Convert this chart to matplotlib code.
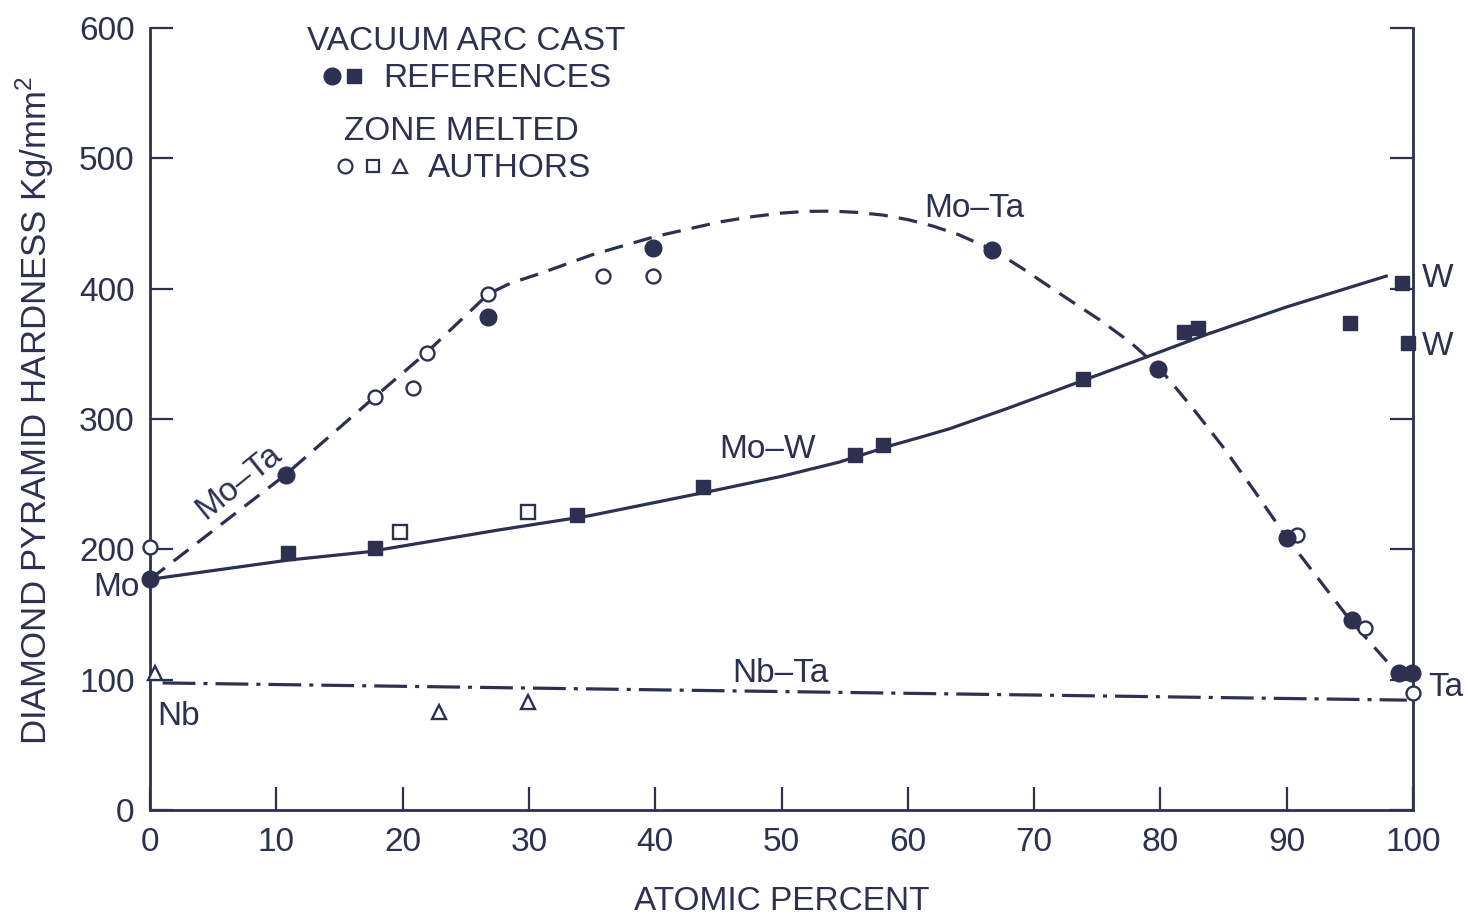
"""
Diamond pyramid hardness of Mo-Ta, Mo-W and Nb-Ta alloys vs atomic percent.
Output: out.png
"""

import matplotlib
matplotlib.use("Agg")
import matplotlib.pyplot as plt
from matplotlib.lines import Line2D
from matplotlib.legend_handler import HandlerTuple

# ── Dati ──────────────────────────────────────────────────────────────────────
# Mo-Ta, vacuum arc cast (references) -> filled circles
mota_ref_x = [0, 10.8, 26.8, 39.8, 66.7, 79.8, 90.0, 95.2, 98.9, 99.9]
mota_ref_y = [177, 257, 378, 431, 430, 338, 209, 146, 105, 105]

# Mo-Ta / Ta, zone melted (authors) -> open circles
mota_auth_x = [0, 17.8, 20.8, 21.9, 26.8, 35.9, 39.8, 90.8, 96.2, 100]
mota_auth_y = [202, 317, 324, 351, 396, 410, 410, 211, 140, 90]

# Mo-W, vacuum arc cast (references) -> filled squares
mow_ref_x = [10.9, 17.8, 33.8, 43.8, 55.8, 58.0, 73.9, 81.9, 83.0, 95.0, 99.1, 99.6]
mow_ref_y = [197, 201, 226, 248, 272, 280, 331, 367, 370, 374, 404, 358]

# Mo-W, zone melted (authors) -> open squares
mow_auth_x = [19.8, 29.9]
mow_auth_y = [213, 229]

# Nb-Ta, zone melted (authors) -> open triangles
nbta_auth_x = [0.4, 22.9, 29.9]
nbta_auth_y = [105, 75, 83]

# Curve tracciate a mano
mota_curve_x = [0, 10.7, 17.8, 21.9, 26.8, 28.5, 31, 35, 40, 45, 47.5, 50, 52, 54,
                56, 58, 60, 62, 64, 66.7, 69, 71.3, 73, 75.2, 77.6, 79, 80, 82.5,
                85, 87.5, 90, 95, 98.3, 99]
mota_curve_y = [177, 257, 317, 351, 396, 404, 412, 426, 440, 451, 455, 458, 459.3, 459.5,
                458.5, 456.5, 453, 448, 441.5, 430, 416, 401, 390, 376, 359, 347, 338, 309,
                278, 244, 209, 146, 110, 105]

mow_curve_x = [0, 11, 17.2, 27.7, 34.7, 44.6, 50, 54.6, 58.8, 61, 63.3, 68,
               74, 78.9, 83.7, 90, 98]
mow_curve_y = [177, 191.8, 198, 215, 225.6, 245, 256, 267, 280, 286, 292.5, 308.5,
               330, 347.6, 365, 386, 410]

nbta_curve_x = [1, 11.9, 58, 99.5]
nbta_curve_y = [97.5, 96, 89.8, 84.3]

x_ticks = list(range(0, 101, 10))
y_ticks = list(range(0, 601, 100))

# ── Stile ─────────────────────────────────────────────────────────────────────
INK = "#2d3050"
FS = 24
plt.rcParams["font.family"] = ["Liberation Sans", "DejaVu Sans"]
plt.rcParams["mathtext.fontset"] = "custom"
plt.rcParams["mathtext.rm"] = "Liberation Sans"
plt.rcParams["lines.scale_dashes"] = False

fig = plt.figure(figsize=(14.68, 9.18), dpi=100)
ax = fig.add_axes([150 / 1468, 1 - 810 / 918, 1263 / 1468, 782 / 918])

# ── Curve ─────────────────────────────────────────────────────────────────────
ax.plot(mow_curve_x, mow_curve_y, color=INK, lw=2.3, solid_capstyle="butt",
        solid_joinstyle="round", zorder=2)
ax.plot(mota_curve_x, mota_curve_y, color=INK, lw=2.3, dashes=(13.5, 8),
        dash_capstyle="butt", zorder=2)
ax.plot(nbta_curve_x, nbta_curve_y, color=INK, lw=2.3, dashes=(23.6, 5.8, 2.9, 5.8),
        dash_capstyle="butt", zorder=2)

# ── Punti ─────────────────────────────────────────────────────────────────────
ax.plot(mota_auth_x, mota_auth_y, ls="none", marker="o", ms=10, mfc="white",
        mec=INK, mew=1.7, clip_on=False, zorder=3)
ax.plot(mow_auth_x, mow_auth_y, ls="none", marker="s", ms=9.5, mfc="white",
        mec=INK, mew=1.7, clip_on=False, zorder=3)
ax.plot(nbta_auth_x, nbta_auth_y, ls="none", marker="^", ms=10.5, mfc="white",
        mec=INK, mew=1.7, clip_on=False, zorder=3)
ax.plot(mota_ref_x, mota_ref_y, ls="none", marker="o", ms=12, mfc=INK,
        mec=INK, clip_on=False, zorder=4)
ax.plot(mow_ref_x, mow_ref_y, ls="none", marker="s", ms=10, mfc=INK,
        mec=INK, clip_on=False, zorder=4)

# ── Assi ──────────────────────────────────────────────────────────────────────
ax.set_xlim(0, 100)
ax.set_ylim(0, 600)
ax.set_xticks(x_ticks)
ax.set_yticks(y_ticks)
ax.spines["top"].set_visible(False)
for s in ("left", "right", "bottom"):
    ax.spines[s].set_color(INK)
    ax.spines[s].set_linewidth(2)
ax.tick_params(direction="in", length=16.5, width=1.6, colors=INK,
               labelsize=FS, pad=11, left=True, right=True, bottom=True, top=False,
               labelright=False)
ax.tick_params(axis="x", pad=12)
ax.patch.set_alpha(0)

fig.text(35 / 1468, 1 - 410 / 918, "DIAMOND PYRAMID HARDNESS Kg/mm$^2$",
         rotation=90, ha="center", va="center", fontsize=25, color=INK)
fig.text(782 / 1468, 1 - 902 / 918, "ATOMIC PERCENT",
         ha="center", va="center", fontsize=FS, color=INK)

# ── Etichette curve ───────────────────────────────────────────────────────────
kw = dict(fontsize=FS, color=INK)
ax.text(-0.8, 164, "Mo", ha="right", va="baseline", **kw)
ax.text(0.55, 65.2, "Nb", ha="left", va="baseline", **kw)
ax.text(7.0, 251.7, "Mo–Ta", rotation=39, rotation_mode="anchor",
        ha="center", va="center", **kw)
ax.text(48.9, 270, "Mo–W", ha="center", va="baseline", **kw)
ax.text(65.3, 455, "Mo–Ta", ha="center", va="baseline", **kw)
ax.text(49.9, 98.2, "Nb–Ta", ha="center", va="baseline", **kw)
ax.text(100.7, 401.3, "W", ha="left", va="baseline", clip_on=False, **kw)
ax.text(100.7, 349.1, "W", ha="left", va="baseline", clip_on=False, **kw)
ax.text(101.2, 87.5, "Ta", ha="left", va="baseline", clip_on=False, **kw)

# ── Legenda ───────────────────────────────────────────────────────────────────
h_fc = Line2D([], [], ls="none", marker="o", ms=12, mfc=INK, mec=INK)
h_fs = Line2D([], [], ls="none", marker="s", ms=10, mfc=INK, mec=INK)
h_oc = Line2D([], [], ls="none", marker="o", ms=10, mfc="white", mec=INK, mew=1.6)
h_os = Line2D([], [], ls="none", marker="s", ms=9, mfc="white", mec=INK, mew=1.6)
h_ot = Line2D([], [], ls="none", marker="^", ms=9.5, mfc="white", mec=INK, mew=1.6)

leg1 = fig.legend([(h_fc, h_fs)], ["REFERENCES"], title="VACUUM ARC CAST",
                  handler_map={tuple: HandlerTuple(ndivide=None, pad=0)},
                  loc="center", bbox_to_anchor=(466 / 1468, 1 - 60 / 918),
                  frameon=False, fontsize=FS, title_fontsize=FS,
                  handlelength=1.3, handletextpad=0.55, borderpad=0,
                  borderaxespad=0, labelspacing=0.2, labelcolor=INK)
leg1.get_title().set_color(INK)
leg2 = fig.legend([(h_oc, h_os, h_ot)], ["AUTHORS"], title="ZONE MELTED",
                  handler_map={tuple: HandlerTuple(ndivide=None, pad=0)},
                  loc="center", bbox_to_anchor=(461 / 1468, 1 - 150 / 918),
                  frameon=False, fontsize=FS, title_fontsize=FS,
                  handlelength=2.5, handletextpad=0.4, borderpad=0,
                  borderaxespad=0, labelspacing=0.2, labelcolor=INK)
leg2.get_title().set_color(INK)
leg1._legend_box.sep = 5
leg2._legend_box.sep = 5

fig.savefig("out.png", dpi=100, facecolor="white")
